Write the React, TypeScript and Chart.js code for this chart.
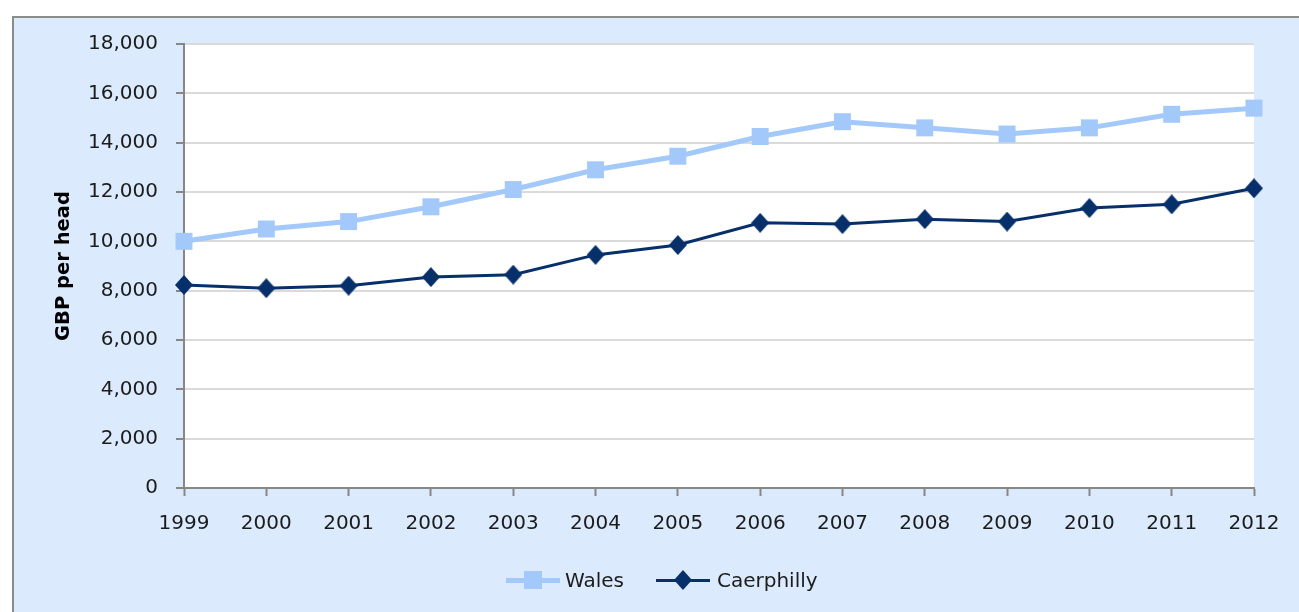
import React, { useEffect, useRef } from "react";
import { Chart, registerables } from "chart.js";

Chart.register(...registerables);

const years = ["1999", "2000", "2001", "2002", "2003", "2004", "2005", "2006", "2007", "2008", "2009", "2010", "2011", "2012"];
const walesValues = [10000, 10500, 10800, 11400, 12100, 12900, 13450, 14250, 14850, 14600, 14350, 14600, 15150, 15400];
const caerphillyValues = [8230, 8100, 8200, 8550, 8650, 9450, 9850, 10750, 10700, 10900, 10800, 11350, 11500, 12150];
const yMin = 0;
const yMax = 18000;
const yStep = 2000;
const seriesNames = ["Wales", "Caerphilly"];
const yTitle = "GBP per head";

const WALES_COLOR = "#A3C9FB";
const CAER_COLOR = "#072F6A";
const FONT = "'DejaVu Sans', Verdana, sans-serif";
const TEXT_COLOR = "#1c1c1c";
const AXIS_COLOR = "#878787";

function makeDiamond(w: number, h: number, color: string): HTMLCanvasElement {
  const c = document.createElement("canvas");
  c.width = w;
  c.height = h;
  const ctx = c.getContext("2d")!;
  ctx.fillStyle = color;
  ctx.beginPath();
  ctx.moveTo(w / 2, 0);
  ctx.lineTo(w, h / 2);
  ctx.lineTo(w / 2, h);
  ctx.lineTo(0, h / 2);
  ctx.closePath();
  ctx.fill();
  return c;
}

const plotBackground = {
  id: "plotBackground",
  beforeDraw(chart: any) {
    const { ctx, chartArea } = chart;
    ctx.save();
    ctx.fillStyle = "#ffffff";
    ctx.fillRect(chartArea.left, chartArea.top, chartArea.right - chartArea.left, chartArea.bottom - chartArea.top);
    ctx.restore();
  },
};

export default function App() {
  const canvasRef = useRef<HTMLCanvasElement | null>(null);

  useEffect(() => {
    if (!canvasRef.current) return;
    const diamond = makeDiamond(18, 20, CAER_COLOR);
    const chart = new Chart(canvasRef.current, {
      type: "line",
      data: {
        labels: years,
        datasets: [
          {
            label: seriesNames[0],
            data: walesValues,
            borderColor: WALES_COLOR,
            backgroundColor: WALES_COLOR,
            borderWidth: 5,
            pointStyle: "rect",
            pointRadius: 12,
            pointBorderWidth: 0,
            pointBackgroundColor: WALES_COLOR,
            tension: 0,
          },
          {
            label: seriesNames[1],
            data: caerphillyValues,
            borderColor: CAER_COLOR,
            backgroundColor: CAER_COLOR,
            borderWidth: 3,
            pointStyle: diamond as any,
            pointRadius: 10,
            pointBorderWidth: 0,
            tension: 0,
          },
        ],
      },
      plugins: [plotBackground],
      options: {
        animation: false,
        responsive: false,
        maintainAspectRatio: false,
        layout: { padding: { left: 0, top: 44, right: 45, bottom: 64 } },
        plugins: {
          legend: { display: false },
          tooltip: { enabled: false },
        },
        scales: {
          x: {
            type: "category",
            offset: false,
            grid: {
              drawOnChartArea: false,
              drawTicks: true,
              tickLength: 8,
              tickColor: AXIS_COLOR,
              tickWidth: 2,
            },
            border: { color: AXIS_COLOR, width: 2 },
            ticks: {
              color: TEXT_COLOR,
              font: { family: FONT, size: 20 },
              padding: 16,
              maxRotation: 0,
              autoSkip: false,
            },
            afterFit: (s: any) => {
              s.height = 60;
            },
          },
          y: {
            min: yMin,
            max: yMax,
            grid: {
              color: "#dadada",
              lineWidth: 2,
              drawTicks: true,
              tickLength: 8,
              tickColor: AXIS_COLOR,
              tickWidth: 2,
            },
            border: { color: AXIS_COLOR, width: 2 },
            ticks: {
              stepSize: yStep,
              color: TEXT_COLOR,
              font: { family: FONT, size: 20 },
              padding: 18,
              callback: (v: any) => Number(v).toLocaleString("en-US"),
            },
            title: {
              display: true,
              text: yTitle,
              color: "#000000",
              font: { family: FONT, size: 19.5, weight: "bold" },
              padding: { top: 52, bottom: 0 },
            },
            afterFit: (s: any) => {
              s.width = 184;
            },
          },
        },
      },
    });
    return () => chart.destroy();
  }, []);

  const legendText: React.CSSProperties = {
    position: "absolute",
    top: 568,
    fontFamily: FONT,
    fontSize: 20,
    lineHeight: "24px",
    color: TEXT_COLOR,
    whiteSpace: "nowrap",
  };

  return (
    <div style={{ position: "fixed", left: 0, top: 0, width: 1299, height: 612, background: "#ffffff", overflow: "hidden" }}>
      <div
        style={{
          position: "absolute",
          left: 12,
          top: 16,
          width: 1299,
          height: 612,
          background: "#DBEAFC",
          borderLeft: "2px solid #8c8c8c",
          borderTop: "2px solid #8c8c8c",
          boxSizing: "border-box",
        }}
      />
      <canvas ref={canvasRef} width={1299} height={612} style={{ position: "absolute", left: 0, top: 0, width: 1299, height: 612 }} />
      <div style={{ position: "absolute", left: 506, top: 578, width: 54, height: 5, background: WALES_COLOR }} />
      <div style={{ position: "absolute", left: 524, top: 571, width: 18, height: 18, background: WALES_COLOR }} />
      <div style={{ ...legendText, left: 565 }}>{seriesNames[0]}</div>
      <div style={{ position: "absolute", left: 656, top: 579, width: 54, height: 3, background: CAER_COLOR }} />
      <svg style={{ position: "absolute", left: 674, top: 570 }} width={18} height={20}>
        <polygon points="9,0 18,10 9,20 0,10" fill={CAER_COLOR} />
      </svg>
      <div style={{ ...legendText, left: 717 }}>{seriesNames[1]}</div>
    </div>
  );
}
